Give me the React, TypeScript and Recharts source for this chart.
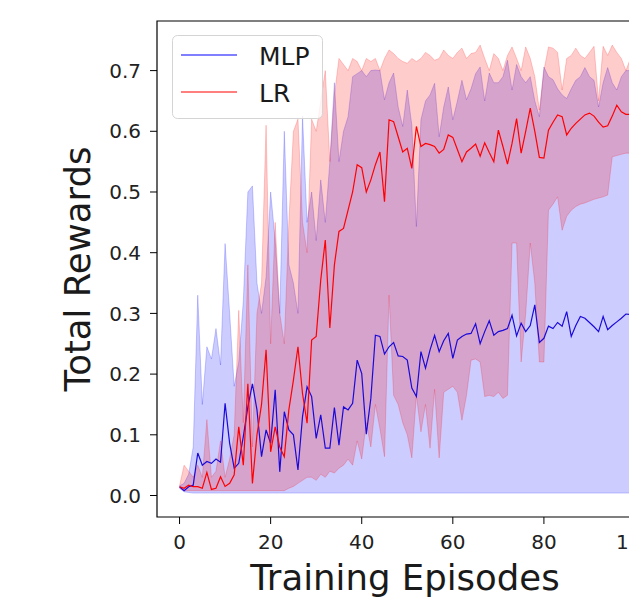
import React from 'react';
import { ComposedChart, Line, Area, XAxis, YAxis, ReferenceArea, Legend } from 'recharts';

const FONT = "'DejaVu Sans', sans-serif";

const mlpMean = [
  0.0145, 0.008, 0.0145, 0.017, 0.07, 0.05, 0.056, 0.053, 0.06, 0.055,
  0.152, 0.086, 0.045, 0.053, 0.097, 0.146, 0.184, 0.141, 0.064, 0.108,
  0.086, 0.174, 0.039, 0.138, 0.108, 0.1, 0.042, 0.13, 0.179, 0.163,
  0.094, 0.133, 0.078, 0.078, 0.145, 0.083, 0.146, 0.141, 0.152, 0.223,
  0.201, 0.101, 0.16, 0.264, 0.262, 0.233, 0.245, 0.252, 0.23, 0.229,
  0.223, 0.177, 0.163, 0.237, 0.21, 0.24, 0.264, 0.237, 0.255, 0.267,
  0.226, 0.256, 0.262, 0.266, 0.267, 0.283, 0.25, 0.27, 0.288, 0.264,
  0.27, 0.272, 0.275, 0.297, 0.263, 0.284, 0.27, 0.28, 0.314, 0.252,
  0.259, 0.279, 0.275, 0.285, 0.279, 0.303, 0.262, 0.28, 0.295, 0.292,
  0.285, 0.278, 0.27, 0.295, 0.273, 0.28, 0.286, 0.292, 0.299, 0.298,
];

const mlpLow = [
  0.012, 0.006, 0.005, 0.004, 0.004, 0.004, 0.004, 0.004, 0.004, 0.004,
  0.004, 0.004, 0.004, 0.004, 0.004, 0.004, 0.004, 0.004, 0.004, 0.004,
  0.004, 0.004, 0.004, 0.004, 0.004, 0.004, 0.004, 0.004, 0.004, 0.004,
  0.004, 0.004, 0.004, 0.004, 0.004, 0.004, 0.004, 0.004, 0.004, 0.004,
  0.004, 0.004, 0.004, 0.004, 0.004, 0.004, 0.004, 0.004, 0.004, 0.004,
  0.004, 0.004, 0.004, 0.004, 0.004, 0.004, 0.004, 0.004, 0.004, 0.004,
  0.004, 0.004, 0.004, 0.004, 0.004, 0.004, 0.004, 0.004, 0.004, 0.004,
  0.004, 0.004, 0.004, 0.004, 0.004, 0.004, 0.004, 0.004, 0.004, 0.004,
  0.004, 0.004, 0.004, 0.004, 0.004, 0.004, 0.004, 0.004, 0.004, 0.004,
  0.004, 0.004, 0.004, 0.004, 0.004, 0.004, 0.004, 0.004, 0.004, 0.004,
];

const mlpHigh = [
  0.016, 0.02, 0.035, 0.08, 0.33, 0.15, 0.245, 0.225, 0.275, 0.215,
  0.415, 0.3, 0.18, 0.22, 0.32, 0.5, 0.51, 0.35, 0.3, 0.36,
  0.5, 0.42, 0.3, 0.6, 0.38, 0.35, 0.3, 0.625, 0.45, 0.5,
  0.42, 0.52, 0.45, 0.55, 0.68, 0.55, 0.6, 0.624, 0.69, 0.695,
  0.7, 0.69, 0.7, 0.701, 0.7, 0.652, 0.68, 0.696, 0.64, 0.608,
  0.668, 0.61, 0.443, 0.619, 0.65, 0.66, 0.679, 0.591, 0.64, 0.673,
  0.619, 0.65, 0.684, 0.652, 0.67, 0.695, 0.706, 0.65, 0.696, 0.68,
  0.68, 0.69, 0.717, 0.668, 0.71, 0.69, 0.68, 0.69, 0.65, 0.624,
  0.706, 0.69, 0.685, 0.67, 0.66, 0.654, 0.67, 0.684, 0.69, 0.705,
  0.69, 0.684, 0.64, 0.68, 0.705, 0.68, 0.668, 0.69, 0.7, 0.7,
];

const lrMean = [
  0.0145, 0.012, 0.017, 0.0145, 0.0145, 0.012, 0.038, 0.01, 0.012, 0.031,
  0.015, 0.02, 0.034, 0.113, 0.05, 0.184, 0.02, 0.1, 0.15, 0.24,
  0.072, 0.113, 0.08, 0.064, 0.141, 0.19, 0.245, 0.168, 0.119, 0.256,
  0.262, 0.355, 0.421, 0.276, 0.38, 0.435, 0.44, 0.47, 0.5, 0.545,
  0.54, 0.5, 0.52, 0.545, 0.566, 0.484, 0.619, 0.616, 0.591, 0.566,
  0.572, 0.539, 0.608, 0.575, 0.58, 0.578, 0.575, 0.564, 0.57, 0.594,
  0.59, 0.57, 0.55, 0.566, 0.572, 0.579, 0.559, 0.581, 0.565, 0.55,
  0.602, 0.575, 0.546, 0.58, 0.621, 0.564, 0.6, 0.638, 0.6, 0.557,
  0.556, 0.602, 0.615, 0.627, 0.624, 0.594, 0.605, 0.613, 0.62, 0.627,
  0.63, 0.625, 0.615, 0.607, 0.609, 0.625, 0.643, 0.632, 0.628, 0.628,
];

const lrLow = [
  0.012, 0.008, 0.008, 0.008, 0.008, 0.008, 0.008, 0.008, 0.008, 0.008,
  0.008, 0.008, 0.008, 0.008, 0.008, 0.008, 0.008, 0.008, 0.008, 0.008,
  0.008, 0.008, 0.008, 0.008, 0.012, 0.015, 0.02, 0.025, 0.03, 0.03,
  0.025, 0.035, 0.03, 0.04, 0.037, 0.045, 0.05, 0.06, 0.05, 0.09,
  0.06, 0.12, 0.08, 0.15, 0.11, 0.064, 0.33, 0.165, 0.15, 0.12,
  0.1, 0.062, 0.165, 0.105, 0.15, 0.078, 0.175, 0.062, 0.17, 0.175,
  0.18, 0.17, 0.124, 0.165, 0.223, 0.225, 0.22, 0.163, 0.165, 0.163,
  0.17, 0.16, 0.165, 0.416, 0.416, 0.22, 0.3, 0.416, 0.35, 0.22,
  0.22, 0.47, 0.48, 0.492, 0.437, 0.46, 0.47, 0.476, 0.48, 0.482,
  0.485, 0.488, 0.49, 0.492, 0.495, 0.558, 0.56, 0.562, 0.564, 0.564,
];

const lrHigh = [
  0.016, 0.05, 0.04, 0.03, 0.05, 0.03, 0.125, 0.03, 0.04, 0.09,
  0.03, 0.06, 0.1, 0.305, 0.12, 0.38, 0.08, 0.3, 0.35, 0.61,
  0.25, 0.45, 0.3, 0.25, 0.45, 0.6, 0.62, 0.45, 0.4, 0.62,
  0.6, 0.65, 0.7, 0.55, 0.66, 0.72, 0.71, 0.7, 0.72, 0.715,
  0.7, 0.72, 0.715, 0.72, 0.7, 0.72, 0.734, 0.728, 0.72, 0.715,
  0.712, 0.72, 0.715, 0.72, 0.73, 0.725, 0.717, 0.72, 0.734, 0.725,
  0.72, 0.73, 0.737, 0.72, 0.728, 0.73, 0.742, 0.72, 0.7, 0.728,
  0.72, 0.7, 0.725, 0.739, 0.72, 0.7, 0.739, 0.72, 0.69, 0.635,
  0.7, 0.739, 0.737, 0.73, 0.668, 0.72, 0.725, 0.737, 0.725, 0.72,
  0.73, 0.74, 0.65, 0.74, 0.725, 0.742, 0.73, 0.72, 0.7, 0.72,
];

const xTicks = [0, 20, 40, 60, 80, 100];
const yTicks = [0, 0.1, 0.2, 0.3, 0.4, 0.5, 0.6, 0.7];
const seriesNames = ['MLP', 'LR'];
const seriesColors = ['#0000ff', '#ff0000'];
const xLabel = 'Training Episodes';
const yLabel = 'Total Rewards';

const X_DOMAIN: [number, number] = [-4.95, 103.95];
const Y_DOMAIN: [number, number] = [-0.0354, 0.7817];

const data = mlpMean.map((m, i) => ({
  ep: i,
  mlp: m,
  mlpBand: [mlpLow[i], mlpHigh[i]],
  lr: lrMean[i],
  lrBand: [lrLow[i], lrHigh[i]],
}));

function LegendBox() {
  return (
    <svg width={151} height={84} style={{ display: 'block' }}>
      <rect x={0.5} y={0.5} width={150} height={83} rx={5} ry={5} fill="rgba(255,255,255,0.8)" stroke="#d4d4d4" strokeWidth={1} />
      {seriesNames.map((name, i) => (
        <g key={name}>
          <line x1={9} x2={65} y1={20 + i * 37} y2={20 + i * 37} stroke={seriesColors[i]} strokeWidth={1.2} />
          <text x={87} y={30 + i * 37} fontFamily={FONT} fontSize={25} fill="#1a1a1a">{name}</text>
        </g>
      ))}
    </svg>
  );
}

const YLabelContent = (props: any) => {
  const vb = props.viewBox || {};
  const cx = vb.x + 90;
  const cy = vb.y + vb.height / 2;
  return (
    <text x={cx} y={cy} transform={`rotate(-90 ${cx} ${cy})`} textAnchor="middle" fontFamily={FONT} fontSize={35.5} fill="#1a1a1a">
      {yLabel}
    </text>
  );
};

const XLabelContent = (props: any) => {
  const vb = props.viewBox || {};
  const cx = vb.x + vb.width / 2;
  const cy = vb.y + 73;
  return (
    <text x={cx} y={cy} textAnchor="middle" fontFamily={FONT} fontSize={35.5} fill="#1a1a1a">
      {xLabel}
    </text>
  );
};

export default function App() {
  const W = 700;
  const H = 620;
  return (
    <div style={{ position: 'absolute', left: 0, top: 0, width: 629, height: 597, overflow: 'hidden', background: '#fff' }}>
      <ComposedChart width={W} height={H} data={data} margin={{ top: 21, right: W - 653, bottom: 0, left: 0 }}>
        <XAxis
          dataKey="ep"
          type="number"
          domain={X_DOMAIN}
          ticks={xTicks}
          allowDataOverflow
          height={H - 517}
          axisLine={false}
          tickLine={{ stroke: '#000', strokeWidth: 1 }}
          tickSize={7}
          tickMargin={11}
          tick={{ fontSize: 20, fontFamily: FONT, fill: '#222' }}
          label={<XLabelContent />}
        />
        <YAxis
          type="number"
          domain={Y_DOMAIN}
          ticks={yTicks}
          allowDataOverflow
          width={157}
          axisLine={false}
          tickLine={{ stroke: '#000', strokeWidth: 1 }}
          tickSize={7}
          tickMargin={9}
          tickFormatter={(v: number) => v.toFixed(1)}
          tick={{ fontSize: 20, fontFamily: FONT, fill: '#222' }}
          label={<YLabelContent />}
        />
        <Line dataKey="mlp" type="linear" stroke="#1a0ad8" strokeWidth={1.2} dot={false} activeDot={false} isAnimationActive={false} />
        <Area dataKey="mlpBand" type="linear" fill={seriesColors[0]} fillOpacity={0.2} stroke={seriesColors[0]} strokeOpacity={0.2} strokeWidth={1} isAnimationActive={false} activeDot={false} />
        <Line dataKey="lr" type="linear" stroke={seriesColors[1]} strokeWidth={1.2} dot={false} activeDot={false} isAnimationActive={false} />
        <Area dataKey="lrBand" type="linear" fill={seriesColors[1]} fillOpacity={0.2} stroke={seriesColors[1]} strokeOpacity={0.2} strokeWidth={1} isAnimationActive={false} activeDot={false} />
        <ReferenceArea x1={X_DOMAIN[0]} x2={X_DOMAIN[1]} y1={Y_DOMAIN[0]} y2={Y_DOMAIN[1]} fill="none" fillOpacity={0} stroke="#000" strokeWidth={1.2} ifOverflow="visible" />
        <Legend
          layout="horizontal"
          verticalAlign="middle"
          align="center"
          content={() => <LegendBox />}
          wrapperStyle={{ position: 'absolute', left: 172, top: 35, width: 151, height: 84 }}
        />
      </ComposedChart>
    </div>
  );
}
